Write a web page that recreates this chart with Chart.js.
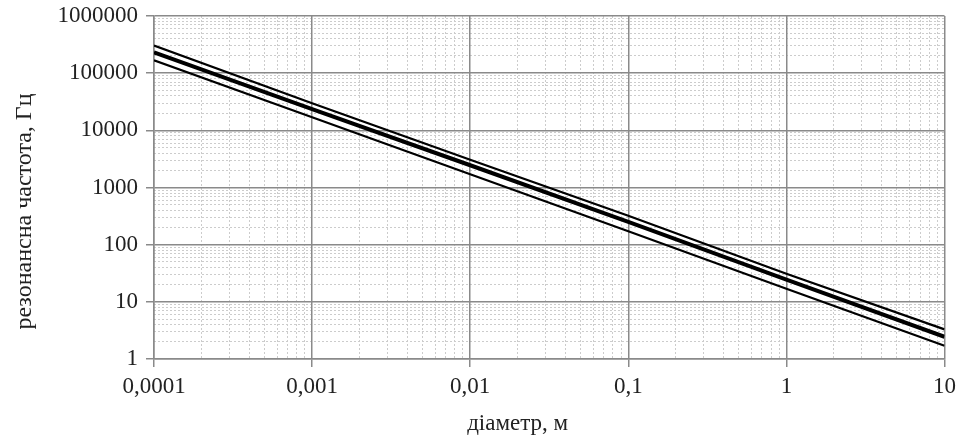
<!DOCTYPE html>
<html>
<head>
<meta charset="utf-8">
<script src="https://cdn.jsdelivr.net/npm/chart.js@4/dist/chart.umd.min.js"></script>
<style>
  body { margin: 0; background: #fff; }
</style>
</head>
<body>
<canvas id="myChart" width="962" height="441"></canvas>
<script>
/* ---------------------------------------------------
    data
----------------------------------------------------- */
const diameters = [0.0001, 0.001, 0.01, 0.1, 1, 10];
const freqUpper = [305000, 29800, 3050, 320, 31, 3.3];
const freqMiddle = [232000, 23500, 2450, 250, 24.5, 2.45];
const freqLower = [168000, 16900, 1700, 172, 17, 1.7];

const xTicks = [0.0001, 0.001, 0.01, 0.1, 1, 10];
const xTickLabels = ["0,0001", "0,001", "0,01", "0,1", "1", "10"];
const yTicks = [1, 10, 100, 1000, 10000, 100000, 1000000];
const yTickLabels = ["1", "10", "100", "1000", "10000", "100000", "1000000"];

// minor grid positions 2..9 inside each decade
function minorTicks(decades) {
  let out = [];
  for (let i = 0; i < decades.length - 1; i++) {
    for (let k = 2; k <= 9; k++) out.push(decades[i] * k);
  }
  return out;
}

function points(ys) {
  return diameters.map((d, i) => ({ x: d, y: ys[i] }));
}

const serif = "'Liberation Serif', 'Times New Roman', serif";
const tickFont = { family: serif, size: 23 };
const majorGrid = { color: "#8a8a8a", lineWidth: 1.5, tickLength: 8, tickColor: "#8a8a8a", tickWidth: 1.5 };
const minorGrid = { color: "#cccccc", lineWidth: 1, drawTicks: false };

/* ---------------------------------------------------
    chart
----------------------------------------------------- */
new Chart(document.getElementById("myChart"), {
  type: "line",
  data: {
    datasets: [
      { data: points(freqUpper), borderColor: "#000", borderWidth: 2.2 },
      { data: points(freqMiddle), borderColor: "#000", borderWidth: 4 },
      { data: points(freqLower), borderColor: "#000", borderWidth: 2.2 },
    ],
  },
  options: {
    responsive: false,
    animation: false,
    layout: { padding: { top: 16, right: 16, left: 0, bottom: 0 } },
    elements: { point: { radius: 0 }, line: { tension: 0 } },
    plugins: { legend: { display: false }, tooltip: { enabled: false } },
    scales: {
      xMinor: {
        type: "logarithmic",
        position: "bottom",
        min: 0.0001,
        max: 10,
        afterBuildTicks: (s) => { s.ticks = minorTicks(xTicks).map((v) => ({ value: v })); },
        afterFit: (s) => { s.height = 0; },
        ticks: { display: false },
        grid: minorGrid,
        border: { display: false, dash: [2, 2] },
      },
      yMinor: {
        type: "logarithmic",
        position: "left",
        min: 1,
        max: 1000000,
        afterBuildTicks: (s) => { s.ticks = minorTicks(yTicks).map((v) => ({ value: v })); },
        afterFit: (s) => { s.width = 0; },
        ticks: { display: false },
        grid: minorGrid,
        border: { display: false, dash: [2, 2] },
      },
      x: {
        type: "logarithmic",
        position: "bottom",
        min: 0.0001,
        max: 10,
        afterBuildTicks: (s) => { s.ticks = xTicks.map((v) => ({ value: v })); },
        afterFit: (s) => { s.height = 82; },
        ticks: {
          autoSkip: false,
          maxRotation: 0,
          padding: 6,
          color: "#222",
          font: tickFont,
          callback: (v, i) => xTickLabels[i],
        },
        grid: majorGrid,
        border: { color: "#8a8a8a", width: 1.5 },
        title: {
          display: true,
          // trailing spaces nudge the title left, like in the original
          text: "діаметр, м           ",
          color: "#222",
          font: { family: serif, size: 23 },
          padding: { top: 0, bottom: 3 },
        },
      },
      y: {
        type: "logarithmic",
        position: "left",
        min: 1,
        max: 1000000,
        afterBuildTicks: (s) => { s.ticks = yTicks.map((v) => ({ value: v })); },
        afterFit: (s) => {
          s.width = 154;
          s.paddingTop = 0;
          s.paddingBottom = 0;
        },
        ticks: {
          autoSkip: false,
          padding: 8,
          color: "#222",
          font: tickFont,
          callback: (v, i) => yTickLabels[i],
        },
        grid: majorGrid,
        border: { color: "#8a8a8a", width: 1.5 },
        title: {
          display: true,
          text: "резонансна частота, Гц        ",
          color: "#222",
          font: { family: serif, size: 24 },
          padding: { top: 10, bottom: 0 },
        },
      },
    },
  },
});
</script>
</body>
</html>
